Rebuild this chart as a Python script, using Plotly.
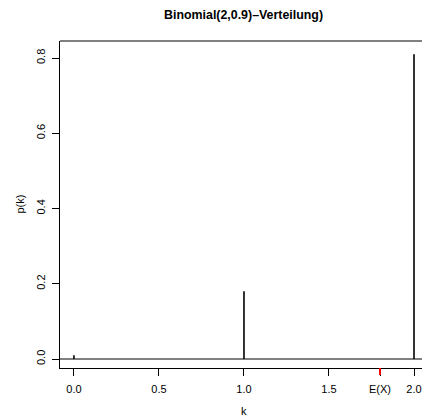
import plotly.graph_objects as go

k = [0, 1, 2]
p = [0.01, 0.18, 0.81]
ex = 1.8
xtick_vals = [0.0, 0.5, 1.0, 1.5, 1.8, 2.0]
xtick_text = ["0.0", "0.5", "1.0", "1.5", "E(X)", "2.0"]
ytick_vals = [0.0, 0.2, 0.4, 0.6, 0.8]
ytick_text = ["0.0", "0.2", "0.4", "0.6", "0.8"]

xs, ys = [], []
for ki, pi in zip(k, p):
    xs += [ki, ki, None]
    ys += [0, pi, None]

fig = go.Figure()
fig.add_trace(go.Scatter(x=xs, y=ys, mode="lines",
                         line=dict(color="black", width=1.6),
                         hoverinfo="skip", showlegend=False))

fam = "Liberation Sans, Arial, sans-serif"
font = dict(family=fam, size=11, color="black")
fig.update_layout(
    width=422, height=416,
    margin=dict(l=60, r=0, t=41, b=48),
    paper_bgcolor="white", plot_bgcolor="white",
    font=font,
    xaxis=dict(range=[-0.082, 2.047], tickvals=xtick_vals, ticktext=xtick_text,
               showgrid=False, zeroline=False, showline=True, linecolor="black",
               linewidth=1, ticks="outside", ticklen=7, tickcolor="black",
               tickwidth=1, tickfont=font, ticklabelstandoff=4),
    yaxis=dict(range=[-0.0239, 0.8452], tickvals=ytick_vals, ticktext=ytick_text,
               showgrid=False, zeroline=False, showline=True, linecolor="black",
               linewidth=1, ticks="outside", ticklen=7, tickcolor="black",
               tickwidth=1, tickangle=-90, tickfont=font, ticklabelstandoff=3),
    shapes=[
        dict(type="line", xref="paper", yref="paper", x0=0, x1=1, y0=1, y1=1,
             line=dict(color="black", width=1)),
        dict(type="line", xref="paper", yref="y", x0=0, x1=1, y0=0, y1=0,
             line=dict(color="black", width=1)),
        dict(type="line", xref="x", yref="paper", x0=ex, x1=ex, y0=0, y1=-0.0214,
             line=dict(color="red", width=2)),
    ],
    annotations=[
        dict(text="<b>Binomial(2,0.9)–Verteilung)</b>", xref="paper", yref="paper",
             x=(243 - 60) / 362, y=(416 - 15 - 48) / 327, showarrow=False,
             xanchor="center", yanchor="middle",
             font=dict(family=fam, size=12.4, color="black")),
        dict(text="k", xref="paper", yref="paper", x=(244 - 60) / 362,
             y=(416 - 411 - 48) / 327, showarrow=False, xanchor="center",
             yanchor="middle", font=font),
        dict(text="p(k)", xref="paper", yref="paper", x=(19 - 60) / 362,
             y=0.5, showarrow=False, xanchor="center", yanchor="middle",
             textangle=-90, font=font),
    ],
)
fig.write_html("out.html")
